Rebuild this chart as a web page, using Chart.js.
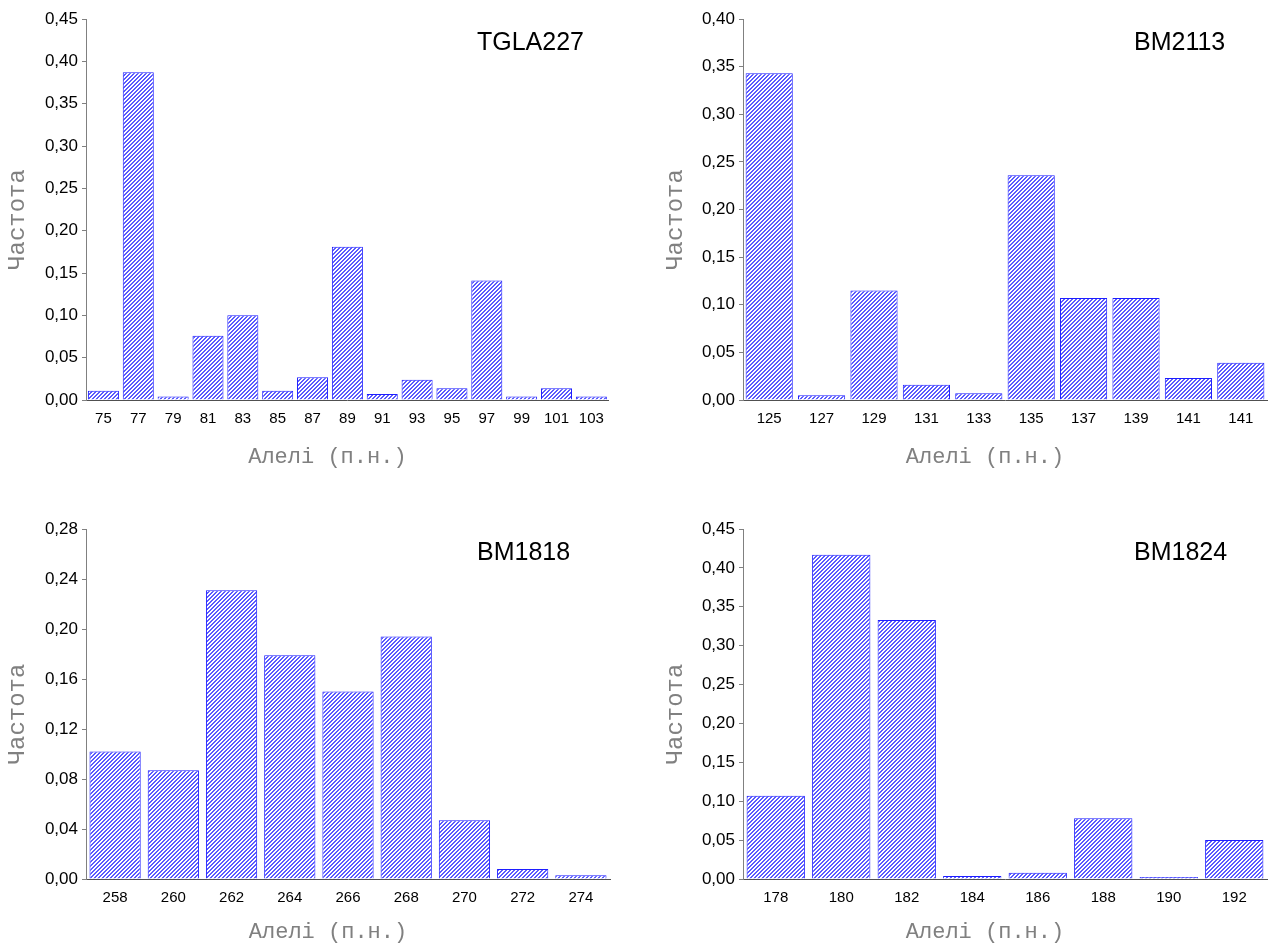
<!DOCTYPE html>
<html>
<head>
<meta charset="utf-8">
<script src="https://cdn.jsdelivr.net/npm/chart.js@4.4.0/dist/chart.umd.min.js"></script>
<style>
    html, body { margin: 0; padding: 0; background: #ffffff; }
    body { width: 1271px; height: 946px; position: relative; overflow: hidden; }
    .panel { position: absolute; }
</style>
</head>
<body>
<div class="panel" id="p1" style="left:0;top:0;width:614px;height:472px"><canvas id="c1"></canvas></div>
<div class="panel" id="p2" style="left:640px;top:0;width:631px;height:472px"><canvas id="c2"></canvas></div>
<div class="panel" id="p3" style="left:0;top:505px;width:614px;height:441px"><canvas id="c3"></canvas></div>
<div class="panel" id="p4" style="left:640px;top:505px;width:631px;height:441px"><canvas id="c4"></canvas></div>
<script>
// --- data ---
const tglaLabels = ['75', '77', '79', '81', '83', '85', '87', '89', '91', '93', '95', '97', '99', '101', '103'];
const tglaValues = [0.011, 0.387, 0.004, 0.076, 0.100, 0.011, 0.027, 0.181, 0.007, 0.024, 0.014, 0.141, 0.004, 0.014, 0.004];

const bm2113Labels = ['125', '127', '129', '131', '133', '135', '137', '139', '141', '141'];
const bm2113Values = [0.343, 0.005, 0.115, 0.016, 0.007, 0.236, 0.107, 0.107, 0.023, 0.039];

const bm1818Labels = ['258', '260', '262', '264', '266', '268', '270', '272', '274'];
const bm1818Values = [0.102, 0.087, 0.231, 0.179, 0.150, 0.194, 0.047, 0.008, 0.003];

const bm1824Labels = ['178', '180', '182', '184', '186', '188', '190', '192'];
const bm1824Values = [0.107, 0.417, 0.333, 0.004, 0.008, 0.078, 0.0025, 0.050];

const Y_TITLE = 'Частота';
const X_TITLE = 'Алелі (п.н.)';

// --- hatch fill for the bars ("/" stripes) ---
const makeHatch = () => {
    const tile = document.createElement('canvas');
    tile.width = 4;
    tile.height = 4;
    const t = tile.getContext('2d');
    t.fillStyle = '#ffffff';
    t.fillRect(0, 0, 4, 4);
    t.fillStyle = '#5a5aff';
    for (let x = 0; x < 4; x++) {
        for (let y = 0; y < 4; y++) {
            if ((x + y) % 4 >= 2) t.fillRect(x, y, 1, 1);
        }
    }
    return t.createPattern(tile, 'repeat');
};
const hatch = makeHatch();

const fmt = (v) => v.toFixed(2).replace('.', ',');

// draws marker name and axis titles
const labelsPlugin = {
    id: 'panelLabels',
    afterDraw(chart, args, opts) {
        const { ctx, chartArea } = chart;
        ctx.save();
        ctx.fillStyle = '#000000';
        ctx.font = '25px "Liberation Sans", Arial, sans-serif';
        ctx.textAlign = 'left';
        ctx.textBaseline = 'middle';
        ctx.fillText(opts.name, chartArea.left + 391, chartArea.top + 24);

        ctx.fillStyle = '#808080';
        ctx.font = '22px "Liberation Mono", "Courier New", monospace';
        ctx.textAlign = 'center';
        ctx.fillText(X_TITLE, (chartArea.left + chartArea.right) / 2 - 20, opts.xTitleY);

        ctx.translate(opts.yTitleX, (chartArea.top + chartArea.bottom) / 2 + 10);
        ctx.rotate(-Math.PI / 2);
        ctx.font = '24px "Liberation Mono", "Courier New", monospace';
        ctx.fillText(Y_TITLE, 0, 0);
        ctx.restore();
    }
};

function renderPanel(canvasId, cfg) {
    const ctx = document.getElementById(canvasId).getContext('2d');
    return new Chart(ctx, {
        type: 'bar',
        data: {
            labels: cfg.labels,
            datasets: [{
                data: cfg.values,
                backgroundColor: hatch,
                borderColor: '#1e1eff',
                borderWidth: 1,
                categoryPercentage: 1,
                barPercentage: cfg.barPct
            }]
        },
        options: {
            responsive: true,
            maintainAspectRatio: false,
            animation: false,
            layout: { padding: { top: cfg.padTop, right: 4, left: 0, bottom: 0 } },
            scales: {
                x: {
                    grid: { drawOnChartArea: false, drawTicks: false },
                    border: { color: '#505050', width: 1 },
                    ticks: {
                        color: '#000000',
                        padding: 10,
                        font: { family: '"Liberation Sans", Arial, sans-serif', size: 15 },
                        maxRotation: 0,
                        autoSkip: false
                    },
                    afterFit: (scale) => { scale.height = cfg.xHeight; }
                },
                y: {
                    min: 0,
                    max: cfg.max,
                    grid: { drawOnChartArea: false, drawTicks: true, tickLength: 4, color: '#808080' },
                    border: { color: '#808080', width: 1 },
                    ticks: {
                        stepSize: cfg.step,
                        color: '#000000',
                        padding: 4,
                        font: { family: '"Liberation Sans", Arial, sans-serif', size: 17 },
                        callback: (value) => fmt(value)
                    },
                    afterFit: (scale) => { scale.width = cfg.yWidth; }
                }
            },
            plugins: {
                legend: { display: false },
                tooltip: { enabled: false },
                panelLabels: { name: cfg.name, xTitleY: cfg.xTitleY, yTitleX: cfg.yTitleX }
            }
        },
        plugins: [labelsPlugin]
    });
}

renderPanel('c1', {
    name: 'TGLA227', labels: tglaLabels, values: tglaValues, max: 0.45, step: 0.05,
    barPct: 0.89, padTop: 19, xHeight: 72, yWidth: 86, xTitleY: 457, yTitleX: 18
});
renderPanel('c2', {
    name: 'BM2113', labels: bm2113Labels, values: bm2113Values, max: 0.40, step: 0.05,
    barPct: 0.9, padTop: 19, xHeight: 72, yWidth: 103, xTitleY: 457, yTitleX: 36
});
renderPanel('c3', {
    name: 'BM1818', labels: bm1818Labels, values: bm1818Values, max: 0.28, step: 0.04,
    barPct: 0.88, padTop: 24, xHeight: 67, yWidth: 86, xTitleY: 427, yTitleX: 18
});
renderPanel('c4', {
    name: 'BM1824', labels: bm1824Labels, values: bm1824Values, max: 0.45, step: 0.05,
    barPct: 0.89, padTop: 24, xHeight: 67, yWidth: 103, xTitleY: 427, yTitleX: 36
});
</script>
</body>
</html>
